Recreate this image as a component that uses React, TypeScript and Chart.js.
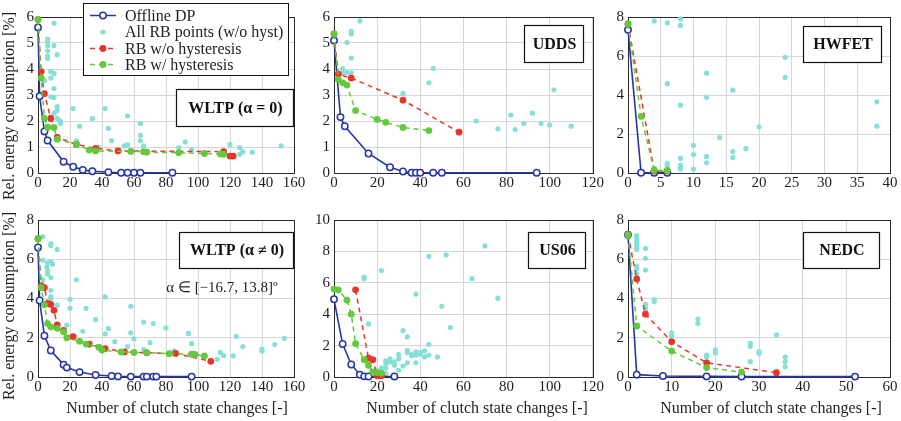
import React, { useEffect, useRef } from "react";
import { Chart, registerables } from "chart.js";
Chart.register(...registerables);

type Pt = [number, number];

// ---------------- DATA ----------------
// WLTP (alpha = 0)
const wltp0Dp: Pt[] = [[0,5.6],[1,2.95],[4,1.6],[6,1.25],[16,0.43],[22,0.24],[28,0.12],[34,0.07],[44,0.03],[52,0.01],[56,0.01],[60,0.01],[64,0.01],[84,0.01]];
const wltp0Rb: Pt[] = [[0,5.9],[2,3.9],[4,3.05],[8,2.1],[12,1.37],[24,1.1],[36,0.95],[50,0.85],[116,0.82],[120,0.65],[122,0.65]];
const wltp0Rbh: Pt[] = [[0,5.9],[2,3.65],[4,2.1],[6,1.75],[10,1.75],[12,1.3],[24,1.1],[32,0.88],[36,0.85],[58,0.83],[66,0.82],[68,0.8],[88,0.78],[104,0.75],[114,0.73],[116,0.72]];
const wltp0All: Pt[] = [[10,5.76],[6,5.15],[6,5.05],[6,4.9],[6,4.7],[6,4.5],[6,4.4],[10,4.9],[12,4.55],[8,3.9],[10,3.82],[8,3.65],[10,3.25],[8,2.93],[10,2.9],[12,2.55],[12,2.4],[10,2.3],[12,2.1],[14,1.9],[22,2.48],[42,2.48],[34,2.1],[56,2.2],[44,1.72],[26,1.8],[64,1.9],[64,1.45],[64,1.24],[46,1.24],[24,1.24],[54,1.04],[56,1.08],[38,1.0],[66,1.04],[88,0.98],[92,1.2],[96,0.9],[120,1.1],[126,0.98],[128,0.82],[126,0.72],[134,0.8],[152,1.04],[4,3.55],[2,3.9],[14,2.0],[6,1.8],[8,2.15]];

// UDDS
const uddsDp: Pt[] = [[0,5.1],[3,2.15],[5,1.8],[16,0.75],[26,0.22],[32,0.06],[36,0.01],[38,0.01],[40,0.01],[46,0.01],[50,0.01],[94,0.01]];
const uddsRb: Pt[] = [[0,5.35],[2,3.8],[8,3.65],[32,2.8],[58,1.57]];
const uddsRbh: Pt[] = [[0,5.35],[2,3.6],[4,3.47],[6,3.38],[10,2.4],[20,2.06],[24,1.95],[32,1.75],[44,1.63]];
const uddsAll: Pt[] = [[12,5.85],[8,5.45],[8,5.35],[6,5.02],[8,4.42],[4,4.02],[6,3.87],[8,3.85],[4,3.85],[46,4.02],[44,3.47],[32,3.06],[66,2.0],[76,1.7],[82,2.23],[84,1.67],[88,1.9],[92,2.3],[96,1.9],[100,1.85],[102,3.2],[110,1.8]];

// HWFET
const hwfetDp: Pt[] = [[0,7.35],[2,0.01],[4,0.01],[6,0.01]];
const hwfetRb: Pt[] = [[0,7.65],[4,0.1],[6,0.1]];
const hwfetRbh: Pt[] = [[0,7.65],[2,2.9],[4,0.14],[6,0.12]];
const hwfetAll: Pt[] = [[4,7.8],[6,7.7],[8,7.9],[8,7.57],[6,4.58],[8,3.48],[12,5.12],[12,3.88],[16,4.25],[24,5.93],[24,4.9],[38,3.65],[38,2.4],[20,2.37],[14,1.82],[18,1.25],[16,1.1],[16,0.8],[10,1.42],[10,0.95],[12,0.85],[12,0.52],[8,0.75],[8,0.4],[8,0.28],[8,0.2],[10,0.2],[6,0.5],[6,0.4],[6,0.28],[4,0.25]];

// WLTP (alpha != 0)
const wltpDp: Pt[] = [[0,6.6],[1,3.9],[4,2.1],[8,1.35],[16,0.63],[18,0.48],[26,0.25],[36,0.1],[46,0.05],[50,0.03],[58,0.02],[66,0.02],[68,0.02],[72,0.02],[74,0.02],[96,0.02]];
const wltpRb: Pt[] = [[0,7.05],[2,4.65],[4,4.55],[6,3.75],[8,3.7],[10,3.4],[12,2.65],[16,2.38],[22,2.05],[32,1.68],[42,1.45],[54,1.28],[68,1.23],[86,1.2],[108,0.8]];
const wltpRbh: Pt[] = [[0,7.05],[2,4.55],[4,3.68],[6,2.72],[8,2.55],[12,2.48],[16,2.3],[18,2.0],[26,1.82],[30,1.68],[38,1.52],[40,1.37],[52,1.28],[60,1.25],[68,1.24],[82,1.19],[96,1.16],[98,1.15],[104,1.07]];
const wltpAll: Pt[] = [[3,7.15],[8,6.8],[8,6.7],[12,6.5],[3,5.96],[6,5.82],[8,5.88],[9,5.75],[5.5,5.6],[6,5.4],[6,5.25],[8,5.07],[3,4.95],[24,4.95],[8,4.42],[8,4.1],[8,4.0],[20,3.96],[42,4.08],[20,3.5],[12,3.66],[30,3.5],[58,3.6],[36,2.93],[18,2.65],[44,2.47],[28,2.33],[58,2.25],[42,2.2],[66,2.8],[72,2.72],[80,2.5],[48,1.8],[70,1.75],[60,1.95],[56,1.55],[96,1.7],[94,2.22],[66,1.4],[85,1.33],[114,1.25],[116,1.1],[122,1.08],[124,2.07],[128,1.55],[140,1.42],[140,1.32],[148,1.65],[154,1.97],[112,0.9]];

// US06
const us06Dp: Pt[] = [[0,4.95],[4,2.1],[8,0.8],[12,0.15],[14,0.04],[16,0.03],[28,0.03]];
const us06Rb: Pt[] = [[10,5.55],[16,1.2],[18,1.1],[20,0.08],[22,0.08]];
const us06Rbh: Pt[] = [[0,5.6],[2,5.55],[6,4.9],[8,4.0],[10,2.12],[14,1.1],[16,0.75],[18,0.32],[20,0.28],[22,0.25]];
const us06All: Pt[] = [[14,6.37],[14,6.26],[22,6.78],[16,3.38],[38,5.28],[44,7.68],[52,7.78],[70,8.35],[64,6.26],[76,5.02],[50,4.5],[54,3.15],[32,2.95],[34,2.55],[44,2.08],[34,1.7],[34,1.55],[30,1.45],[30,1.17],[28,0.96],[28,0.75],[26,1.15],[24,1.03],[24,0.85],[22,0.58],[24,0.58],[32,0.7],[30,0.43],[34,0.9],[36,1.45],[38,1.6],[38,1.4],[38,0.9],[40,1.55],[40,1.45],[42,1.67],[42,1.28],[44,1.4],[48,1.28],[20,0.43],[24,0.21],[26,0.95],[36,1.35]];

// NEDC
const nedcDp: Pt[] = [[0,7.25],[2,0.12],[8,0.05],[18,0.03],[26,0.02],[52,0.02]];
const nedcRb: Pt[] = [[0,7.25],[2,5.0],[4,3.2],[10,1.8],[18,0.72],[34,0.22]];
const nedcRbh: Pt[] = [[0,7.25],[2,2.6],[10,1.32],[18,0.48],[26,0.25]];
const nedcAll: Pt[] = [[2,7.2],[2,7.05],[2,6.9],[2,6.75],[2,6.6],[2,6.5],[2,5.65],[2,5.5],[2,5.25],[4,6.55],[4,6.05],[4,5.45],[6,3.95],[6,3.85],[4,3.72],[4,3.55],[4,3.4],[10,2.25],[10,2.1],[16,2.95],[16,2.72],[18,1.12],[18,1.02],[20,1.38],[20,1.22],[28,1.72],[28,1.55],[28,0.78],[30,1.3],[30,1.2],[34,2.15],[36,1.02],[36,0.78],[36,0.52]];

const legendLabels = ["Offline DP", "All RB points (w/o hyst)", "RB w/o hysteresis", "RB w/ hysteresis"];
const xTitleText = "Number of clutch state changes [-]";
const yTitleText = "Rel. energy consumption [%]";

// ---------------- STYLE ----------------
const FONT = "'Liberation Serif', 'Times New Roman', serif";
const BLUE = "#2536a6";
const RED = "#e8352a";
const GREEN = "#62c83c";
const CYAN = "#86e0d7";
const GRID = "#d6d6d6";
const INK = "#1e1e1e";

interface PanelCfg {
  left: number; top: number; w: number; h: number;
  plot: { l: number; t: number; r: number; b: number };
  xMax: number; xStep: number; yMax: number; yStep: number;
  dp: Pt[]; rb: Pt[]; rbh: Pt[]; all: Pt[];
  label: { text: string; x: number; y: number; w: number; h: number };
  note?: { text: string; x: number; y: number };
  legend?: boolean;
  xTitleX?: number;
  yTitleY?: number;
}

const panels: PanelCfg[] = [
  { left: 0, top: 0, w: 318, h: 200, plot: { l: 38, t: 17, r: 294, b: 173 }, xMax: 160, xStep: 20, yMax: 6, yStep: 1,
    dp: wltp0Dp, rb: wltp0Rb, rbh: wltp0Rbh, all: wltp0All,
    label: { text: "WLTP (\u03b1 = 0)", x: 176, y: 89, w: 117, h: 37 }, legend: true, yTitleY: 106 },
  { left: 300, top: 0, w: 305, h: 200, plot: { l: 334, t: 17, r: 595, b: 173 }, xMax: 120, xStep: 20, yMax: 6, yStep: 1,
    dp: uddsDp, rb: uddsRb, rbh: uddsRbh, all: uddsAll,
    label: { text: "UDDS", x: 524, y: 25, w: 59, h: 37 } },
  { left: 595, top: 0, w: 306, h: 200, plot: { l: 628, t: 17, r: 890, b: 173 }, xMax: 40, xStep: 5, yMax: 8, yStep: 2,
    dp: hwfetDp, rb: hwfetRb, rbh: hwfetRbh, all: hwfetAll,
    label: { text: "HWFET", x: 803, y: 26, w: 78, h: 36 } },
  { left: 0, top: 200, w: 318, h: 221, plot: { l: 38, t: 220, r: 294, b: 377 }, xMax: 160, xStep: 20, yMax: 8, yStep: 2,
    dp: wltpDp, rb: wltpRb, rbh: wltpRbh, all: wltpAll,
    label: { text: "WLTP (\u03b1 \u2260 0)", x: 179, y: 232, w: 114, h: 36 },
    note: { text: "\u03b1 \u2208 [\u221216.7, 13.8]\u00ba", x: 222, y: 288 }, xTitleX: 177, yTitleY: 306 },
  { left: 300, top: 200, w: 305, h: 221, plot: { l: 334, t: 220, r: 595, b: 377 }, xMax: 120, xStep: 20, yMax: 10, yStep: 2,
    dp: us06Dp, rb: us06Rb, rbh: us06Rbh, all: us06All,
    label: { text: "US06", x: 528, y: 232, w: 57, h: 36 }, xTitleX: 477 },
  { left: 595, top: 200, w: 306, h: 221, plot: { l: 628, t: 220, r: 890, b: 377 }, xMax: 60, xStep: 10, yMax: 8, yStep: 2,
    dp: nedcDp, rb: nedcRb, rbh: nedcRbh, all: nedcAll,
    label: { text: "NEDC", x: 803, y: 232, w: 76, h: 36 }, xTitleX: 771 },
];

const toXY = (a: Pt[]) => a.map(([x, y]) => ({ x, y }));

function makeDecor(cfg: PanelCfg) {
  const ox = cfg.left, oy = cfg.top;
  return {
    id: "decor",
    beforeDatasetsDraw(chart: any) {
      const { ctx, chartArea: a } = chart;
      ctx.save();
      ctx.strokeStyle = "#2a2a2a";
      ctx.lineWidth = 1;
      ctx.strokeRect(Math.round(a.left) + 0.5, Math.round(a.top) + 0.5, Math.round(a.right - a.left), Math.round(a.bottom - a.top));
      ctx.restore();
    },
    afterDraw(chart: any) {
      const ctx: CanvasRenderingContext2D = chart.ctx;
      ctx.save();
      // label box
      const L = cfg.label;
      ctx.fillStyle = "#fff";
      ctx.fillRect(L.x - ox, L.y - oy, L.w, L.h);
      ctx.strokeStyle = "#111";
      ctx.lineWidth = 1.2;
      ctx.strokeRect(L.x - ox + 0.5, L.y - oy + 0.5, L.w, L.h);
      ctx.fillStyle = "#111";
      ctx.font = `bold 16px ${FONT}`;
      ctx.textAlign = "center";
      ctx.textBaseline = "middle";
      ctx.fillText(L.text, L.x - ox + L.w / 2 + 1, L.y - oy + L.h / 2 + 1);
      if (cfg.note) {
        ctx.font = `15px ${FONT}`;
        ctx.fillStyle = INK;
        ctx.fillText(cfg.note.text, cfg.note.x - ox, cfg.note.y - oy);
      }
      if (cfg.legend) {
        const bx = 83 - ox, by = 3 - oy, bw = 205, bh = 72;
        ctx.fillStyle = "#fff";
        ctx.fillRect(bx, by, bw, bh);
        ctx.strokeStyle = "#111";
        ctx.lineWidth = 1;
        ctx.strokeRect(bx + 0.5, by + 0.5, bw, bh);
        const rows = [15.5, 32, 48.5, 64.5];
        const colors = [BLUE, CYAN, RED, GREEN];
        rows.forEach((ry, i) => {
          const y = ry - oy;
          const x0 = 90 - ox, x1 = 116 - ox, xm = 103 - ox;
          ctx.lineWidth = 1.5;
          ctx.strokeStyle = colors[i];
          if (i !== 1) {
            ctx.setLineDash(i === 0 ? [] : [5, 4]);
            ctx.beginPath();
            ctx.moveTo(x0, y);
            ctx.lineTo(x1, y);
            ctx.stroke();
            ctx.setLineDash([]);
          }
          ctx.beginPath();
          if (i === 0) {
            ctx.fillStyle = "#fff";
            ctx.arc(xm, y, 3.2, 0, Math.PI * 2);
            ctx.fill();
            ctx.stroke();
          } else {
            ctx.fillStyle = colors[i];
            ctx.arc(xm, y, i === 1 ? 2.6 : 3.4, 0, Math.PI * 2);
            ctx.fill();
          }
          ctx.fillStyle = INK;
          ctx.font = `16px ${FONT}`;
          ctx.textAlign = "left";
          ctx.textBaseline = "middle";
          ctx.fillText(legendLabels[i], 125 - ox, y + 1);
        });
      }
      if (cfg.xTitleX !== undefined) {
        ctx.fillStyle = INK;
        ctx.font = `16px ${FONT}`;
        ctx.textAlign = "center";
        ctx.textBaseline = "middle";
        ctx.fillText(xTitleText, cfg.xTitleX - ox, 409 - oy);
      }
      if (cfg.yTitleY !== undefined) {
        ctx.fillStyle = INK;
        ctx.font = `16px ${FONT}`;
        ctx.textAlign = "center";
        ctx.textBaseline = "middle";
        ctx.translate(10 - ox, cfg.yTitleY - oy);
        ctx.rotate(-Math.PI / 2);
        ctx.fillText(yTitleText, 0, 0);
      }
      ctx.restore();
    },
  };
}

function Panel({ cfg }: { cfg: PanelCfg }) {
  const ref = useRef<HTMLCanvasElement>(null);
  useEffect(() => {
    const canvas = ref.current!;
    const yW = cfg.plot.l - cfg.left;
    const xH = cfg.top + cfg.h - cfg.plot.b;
    const chart = new Chart(canvas, {
      type: "scatter",
      data: {
        datasets: [
          { label: legendLabels[3], data: toXY(cfg.rbh), showLine: true, borderColor: GREEN, borderWidth: 1.5, borderDash: [5, 4],
            pointRadius: 3.4, pointBackgroundColor: GREEN, pointBorderColor: GREEN, pointBorderWidth: 0, order: 1, clip: false } as any,
          { label: legendLabels[2], data: toXY(cfg.rb), showLine: true, borderColor: RED, borderWidth: 1.5, borderDash: [5, 4],
            pointRadius: 3.4, pointBackgroundColor: RED, pointBorderColor: RED, pointBorderWidth: 0, order: 2, clip: false } as any,
          { label: legendLabels[0], data: toXY(cfg.dp), showLine: true, borderColor: BLUE, borderWidth: 1.6,
            pointRadius: 3.2, pointBackgroundColor: "#fff", pointBorderColor: BLUE, pointBorderWidth: 1.5, order: 3, clip: false } as any,
          { label: legendLabels[1], data: toXY(cfg.all), showLine: false, pointRadius: 2.6, pointBackgroundColor: CYAN,
            pointBorderWidth: 0, backgroundColor: CYAN, order: 4, clip: false } as any,
        ],
      },
      options: {
        responsive: false,
        animation: false,
        events: [],
        layout: { autoPadding: false, padding: { left: 0, top: cfg.plot.t - cfg.top, right: cfg.left + cfg.w - cfg.plot.r, bottom: 0 } },
        plugins: { legend: { display: false }, tooltip: { enabled: false } },
        scales: {
          x: {
            type: "linear", min: 0, max: cfg.xMax,
            afterFit: (s: any) => { s.height = xH; },
            ticks: { stepSize: cfg.xStep, autoSkip: false, maxRotation: 0, padding: 1, color: INK, font: { family: FONT, size: 15 } },
            grid: { color: GRID, drawTicks: false, lineWidth: 1 },
            border: { display: false },
          },
          y: {
            type: "linear", min: 0, max: cfg.yMax,
            afterFit: (s: any) => { s.width = yW; },
            ticks: { stepSize: cfg.yStep, autoSkip: false, padding: 4, color: INK, font: { family: FONT, size: 15 } },
            grid: { color: GRID, drawTicks: false, lineWidth: 1 },
            border: { display: false },
          },
        },
      } as any,
      plugins: [makeDecor(cfg)],
    });
    return () => chart.destroy();
  }, []);
  return (
    <canvas
      ref={ref}
      width={cfg.w}
      height={cfg.h}
      style={{ position: "absolute", left: cfg.left, top: cfg.top, width: cfg.w, height: cfg.h }}
    />
  );
}

export default function App() {
  return (
    <div style={{ position: "absolute", left: 0, top: 0, width: 901, height: 421, background: "#fff" }}>
      {panels.map((p, i) => (
        <Panel key={i} cfg={p} />
      ))}
    </div>
  );
}
